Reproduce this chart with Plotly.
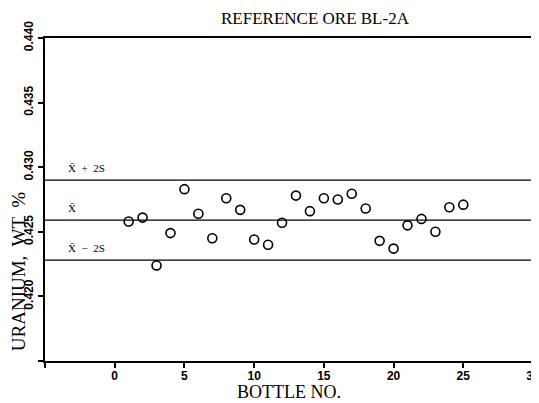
import plotly.graph_objects as go

bottles = list(range(1, 26))
uranium = [0.4258, 0.4261, 0.4224, 0.4249, 0.4283, 0.4264, 0.4245, 0.4276, 0.4267, 0.4244,
           0.4240, 0.4257, 0.4278, 0.4266, 0.4276, 0.4275, 0.42795, 0.4268, 0.4243, 0.4237,
           0.4255, 0.4260, 0.4250, 0.4269, 0.4271]
mean_val = 0.4259
two_s = 0.0031
ref_levels = [mean_val + two_s, mean_val, mean_val - two_s]
ref_labels = ["X̄  +  2S", "X̄", "X̄  −  2S"]

x_ticks = [-5, 0, 5, 10, 15, 20, 25, 30]
x_ticktext = ["", "0", "5", "10", "15", "20", "25", "30"]
y_ticks = [0.415, 0.420, 0.425, 0.430, 0.435, 0.440]
y_ticktext = ["", "0.420", "0.425", "0.430", "0.435", "0.440"]

SERIF = "Liberation Serif, DejaVu Serif, serif"
SANS = "Liberation Sans, Arial, sans-serif"

fig = go.Figure()
for lvl in ref_levels:
    fig.add_trace(go.Scatter(x=[-5, 30], y=[lvl, lvl], mode="lines",
                             line=dict(color="black", width=1.3), hoverinfo="skip"))
fig.add_trace(go.Scatter(x=bottles, y=uranium, mode="markers",
                         marker=dict(symbol="circle-open", size=9, color="black",
                                     line=dict(width=1.6, color="black"))))

for lvl, lab in zip(ref_levels, ref_labels):
    fig.add_annotation(x=-3.5, y=lvl, text=lab, showarrow=False, xanchor="left",
                       yanchor="bottom", yshift=4,
                       font=dict(family=SERIF, size=11, color="black"))

# title and axis titles as annotations
fig.add_annotation(x=14.4, y=1, xref="x", yref="paper", yshift=20,
                   text="REFERENCE ORE BL-2A", showarrow=False, borderpad=0,
                   xanchor="center", yanchor="middle",
                   font=dict(family=SERIF, size=17, color="black"))
fig.add_annotation(x=0.5, y=0, xref="paper", yref="paper", yshift=-31,
                   text="BOTTLE NO.", showarrow=False, borderpad=0,
                   xanchor="center", yanchor="middle",
                   font=dict(family=SERIF, size=18, color="black"))
fig.add_annotation(x=0, y=0.275, xref="paper", yref="paper", xshift=-27,
                   text="URANIUM,  WT  %",
                   showarrow=False, textangle=-90, borderpad=0,
                   xanchor="center", yanchor="middle",
                   font=dict(family=SERIF, size=19, color="black"))

# page body has an 8px default margin, so the figure is sized/offset to compensate
fig.update_layout(
    width=531, height=395,
    margin=dict(l=37, r=6, t=30, b=42),
    paper_bgcolor="white", plot_bgcolor="white",
    showlegend=False,
)
fig.update_xaxes(
    range=[-5, 30], tickvals=x_ticks, ticktext=x_ticktext, automargin=False,
    ticklabeloverflow="allow", ticklabelstandoff=-2,
    showgrid=False, zeroline=False,
    showline=True, linecolor="black", linewidth=2, mirror=True,
    ticks="outside", ticklen=5, tickwidth=1.5, tickcolor="black",
    tickfont=dict(family=SANS, size=12, color="black", weight="bold"),
)
fig.update_yaxes(
    range=[0.415, 0.440], tickvals=y_ticks, ticktext=y_ticktext, tickangle=-90,
    automargin=False, ticklabeloverflow="allow",
    showgrid=False, zeroline=False,
    showline=True, linecolor="black", linewidth=2, mirror=True,
    ticks="outside", ticklen=5, tickwidth=1.5, tickcolor="black",
    tickfont=dict(family=SANS, size=12, color="black", weight="bold"),
)

fig.write_html("out.html")
